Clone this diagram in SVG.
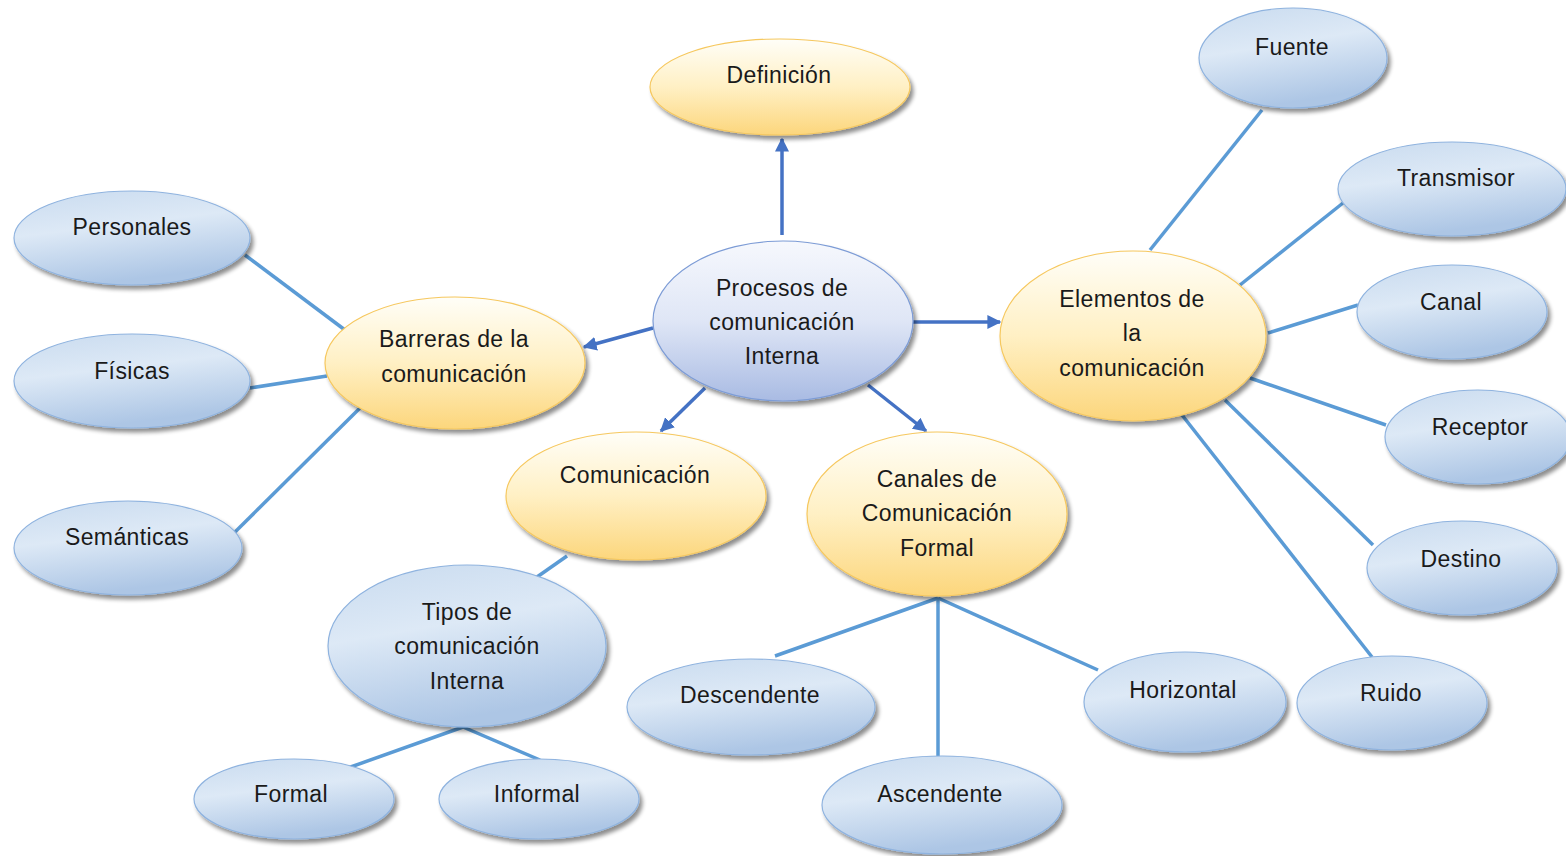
<svg xmlns="http://www.w3.org/2000/svg" width="1566" height="856" viewBox="0 0 1566 856">
<defs>
<linearGradient id="gBlue" x1="0" y1="0" x2="0.3" y2="1">
<stop offset="0" stop-color="#c9dbef"/>
<stop offset="0.45" stop-color="#dde9f6"/>
<stop offset="1" stop-color="#adc6e5"/>
</linearGradient>
<linearGradient id="gYellow" x1="0" y1="0" x2="0" y2="1">
<stop offset="0" stop-color="#fffef8"/>
<stop offset="0.5" stop-color="#fff0c4"/>
<stop offset="1" stop-color="#fcd67c"/>
</linearGradient>
<linearGradient id="gMain" x1="0" y1="0" x2="0" y2="1">
<stop offset="0" stop-color="#f6f8fd"/>
<stop offset="0.5" stop-color="#dfe6f6"/>
<stop offset="1" stop-color="#a9bbe3"/>
</linearGradient>
<filter id="sh" x="-10%" y="-10%" width="125%" height="130%">
<feGaussianBlur in="SourceAlpha" stdDeviation="2"/>
<feOffset dx="3" dy="4" result="b"/>
<feComponentTransfer><feFuncA type="linear" slope="0.45"/></feComponentTransfer>
<feMerge><feMergeNode/><feMergeNode in="SourceGraphic"/></feMerge>
</filter>
<marker id="ah" viewBox="0 0 10 10" refX="9" refY="5" markerWidth="4" markerHeight="4" orient="auto" markerUnits="strokeWidth">
<path d="M0,0 L10,5 L0,10 z" fill="#4472c4"/>
</marker>
</defs>
<style>
.b{fill:url(#gBlue);stroke:#8fb3df;stroke-width:1.2;filter:url(#sh)}
.y{fill:url(#gYellow);stroke:#f6c85f;stroke-width:1.2;filter:url(#sh)}
.m{fill:url(#gMain);stroke:#7d9cd6;stroke-width:1.2;filter:url(#sh)}
text{font-family:"Liberation Sans",Arial,sans-serif;font-size:23px;fill:#1a1a1a;text-anchor:middle;letter-spacing:0.4px}
.arr{stroke:#4472c4;stroke-width:3.5;fill:none;marker-end:url(#ah)}
.ln{stroke:#5b9bd5;stroke-width:3.5;fill:none}
</style>
<rect width="1566" height="856" fill="#ffffff"/>
<g id="connectors">
<line class="arr" x1="782" y1="235" x2="782" y2="139"/>
<line class="arr" x1="913" y1="322" x2="1000" y2="322"/>
<line class="arr" x1="653" y1="328" x2="584" y2="347"/>
<line class="arr" x1="705" y1="388" x2="661" y2="431"/>
<line class="arr" x1="868" y1="385" x2="926" y2="431"/>
<line class="ln" x1="1262" y1="110" x2="1150" y2="250"/>
<line class="ln" x1="1343" y1="203" x2="1240" y2="285"/>
<line class="ln" x1="1358" y1="305" x2="1268" y2="333"/>
<line class="ln" x1="1386" y1="425" x2="1250" y2="378"/>
<line class="ln" x1="1373" y1="545" x2="1225" y2="400"/>
<line class="ln" x1="1372" y1="657" x2="1182" y2="415"/>
<line class="ln" x1="245" y1="255" x2="345" y2="330"/>
<line class="ln" x1="250" y1="388" x2="327" y2="376"/>
<line class="ln" x1="234" y1="533" x2="360" y2="408"/>
<line class="ln" x1="567" y1="556" x2="537" y2="577"/>
<line class="ln" x1="463" y1="727" x2="345" y2="769"/>
<line class="ln" x1="463" y1="727" x2="540" y2="760"/>
<line class="ln" x1="938" y1="598" x2="775" y2="656"/>
<line class="ln" x1="938" y1="598" x2="938" y2="756"/>
<line class="ln" x1="938" y1="598" x2="1098" y2="670"/>
</g>
<g id="n-definicion"><ellipse class="y" cx="780" cy="87" rx="130" ry="48"/><text x="779" y="83">Definición</text></g>
<g id="n-procesos"><ellipse class="m" cx="783" cy="321" rx="130" ry="80"/><text x="782" y="296">Procesos de</text><text x="782" y="330">comunicación</text><text x="782" y="364">Interna</text></g>
<g id="n-elementos"><ellipse class="y" cx="1133" cy="336" rx="133" ry="85"/><text x="1132" y="307">Elementos de</text><text x="1132" y="341">la</text><text x="1132" y="376">comunicación</text></g>
<g id="n-barreras"><ellipse class="y" cx="455" cy="363" rx="130" ry="66"/><text x="454" y="347">Barreras de la</text><text x="454" y="382">comunicación</text></g>
<g id="n-comunicacion"><ellipse class="y" cx="636" cy="496" rx="130" ry="64"/><text x="635" y="483">Comunicación</text></g>
<g id="n-canales"><ellipse class="y" cx="937" cy="514" rx="130" ry="82"/><text x="937" y="487">Canales de</text><text x="937" y="521">Comunicación</text><text x="937" y="556">Formal</text></g>
<g id="n-tipos"><ellipse class="b" cx="467" cy="646" rx="139" ry="81"/><text x="467" y="620">Tipos de</text><text x="467" y="654">comunicación</text><text x="467" y="689">Interna</text></g>
<g id="n-personales"><ellipse class="b" cx="132" cy="238" rx="118" ry="47"/><text x="132" y="235">Personales</text></g>
<g id="n-fisicas"><ellipse class="b" cx="132" cy="381" rx="118" ry="47"/><text x="132" y="379">Físicas</text></g>
<g id="n-semanticas"><ellipse class="b" cx="128" cy="548" rx="114" ry="47"/><text x="127" y="545">Semánticas</text></g>
<g id="n-fuente"><ellipse class="b" cx="1293" cy="58" rx="94" ry="50"/><text x="1292" y="55">Fuente</text></g>
<g id="n-transmisor"><ellipse class="b" cx="1452" cy="189" rx="114" ry="47"/><text x="1456" y="186">Transmisor</text></g>
<g id="n-canal"><ellipse class="b" cx="1452" cy="312" rx="95" ry="47"/><text x="1451" y="310">Canal</text></g>
<g id="n-receptor"><ellipse class="b" cx="1478" cy="437" rx="93" ry="47"/><text x="1480" y="435">Receptor</text></g>
<g id="n-destino"><ellipse class="b" cx="1462" cy="568" rx="95" ry="47"/><text x="1461" y="567">Destino</text></g>
<g id="n-ruido"><ellipse class="b" cx="1392" cy="703" rx="95" ry="47"/><text x="1391" y="701">Ruido</text></g>
<g id="n-horizontal"><ellipse class="b" cx="1185" cy="702" rx="101" ry="50"/><text x="1183" y="698">Horizontal</text></g>
<g id="n-descendente"><ellipse class="b" cx="751" cy="707" rx="124" ry="48"/><text x="750" y="703">Descendente</text></g>
<g id="n-ascendente"><ellipse class="b" cx="942" cy="805" rx="120" ry="49"/><text x="940" y="802">Ascendente</text></g>
<g id="n-formal"><ellipse class="b" cx="294" cy="799" rx="100" ry="40"/><text x="291" y="802">Formal</text></g>
<g id="n-informal"><ellipse class="b" cx="539" cy="799" rx="100" ry="40"/><text x="537" y="802">Informal</text></g>
</svg>
